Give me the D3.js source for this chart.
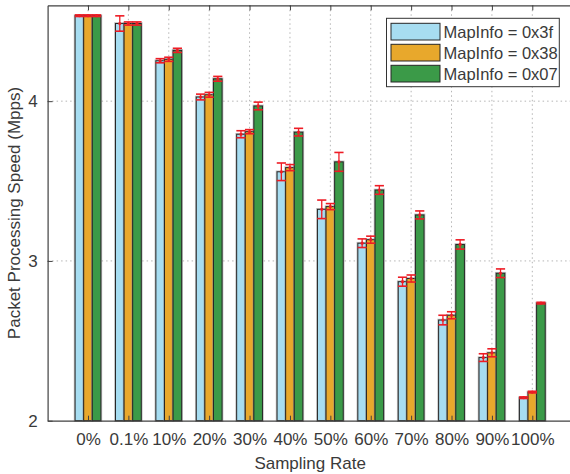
<!DOCTYPE html>
<html>
<head>
<meta charset="utf-8">
<script src="https://cdn.jsdelivr.net/npm/d3@7"></script>
<style>
  html, body { margin: 0; padding: 0; background: #fff; }
  svg { display: block; font-family: "Liberation Sans", Arial, Helvetica, sans-serif; }
</style>
</head>
<body>
<svg id="chart" width="570" height="474"></svg>
<script>
// Sampling rates on the x axis
const categories = ["0%", "0.1%", "10%", "20%", "30%", "40%", "50%", "60%", "70%", "80%", "90%", "100%"];

// Series names (legend entries)
const seriesNames = ["MapInfo = 0x3f", "MapInfo = 0x38", "MapInfo = 0x07"];

// Mean packet processing speed (Mpps) per sampling rate
const speed3f = [4.535, 4.486, 4.253, 4.026, 3.793, 3.558, 3.323, 3.111, 2.870, 2.630, 2.395, 2.144];
const speed38 = [4.535, 4.486, 4.262, 4.040, 3.809, 3.584, 3.340, 3.133, 2.890, 2.660, 2.425, 2.179];
const speed07 = [4.535, 4.486, 4.318, 4.140, 3.970, 3.806, 3.620, 3.444, 3.288, 3.103, 2.923, 2.736];

// Half-width of the error bars (Mpps)
const err3f = [0.005, 0.048, 0.013, 0.018, 0.022, 0.055, 0.058, 0.027, 0.028, 0.030, 0.024, 0.005];
const err38 = [0.005, 0.010, 0.013, 0.015, 0.013, 0.019, 0.019, 0.022, 0.022, 0.022, 0.025, 0.005];
const err07 = [0.005, 0.010, 0.013, 0.015, 0.024, 0.024, 0.059, 0.027, 0.025, 0.029, 0.027, 0.005];

// Y axis ticks
const yTicks = [2, 3, 4];

const colors = ["#a7ddf1", "#e8a82c", "#3b9a48"];

const series = [
  { name: seriesNames[0], values: speed3f, errs: err3f, color: colors[0] },
  { name: seriesNames[1], values: speed38, errs: err38, color: colors[1] },
  { name: seriesNames[2], values: speed07, errs: err07, color: colors[2] }
];

const svg = d3.select("#chart");
const plotLeft = 47.6, plotRight = 572.7, plotTop = 5.3, plotBottom = 420.7;

// Categorical positions 1..12 on a 0..13 axis
const x = d3.scaleLinear().domain([0, categories.length + 1]).range([plotLeft, plotRight]);
const y = d3.scaleLinear().domain([2, 4.6]).range([plotBottom, plotTop]);
const barW = 8.6;
const inner = d3.scaleBand().domain(d3.range(series.length))
  .range([-barW * series.length / 2, barW * series.length / 2]).padding(0);

const axisColor = "#404040";
const textColor = "#3a3a3a";

// Grid (dotted), behind bars
const grid = svg.append("g");
grid.selectAll("line.vg").data(categories).join("line")
  .attr("x1", (d, i) => x(i + 1)).attr("x2", (d, i) => x(i + 1))
  .attr("y1", plotTop).attr("y2", plotBottom)
  .attr("stroke", "#b5b5b5").attr("stroke-width", 1).attr("stroke-dasharray", "1.5,3");
grid.selectAll("line.hg").data(yTicks.filter(t => t > 2)).join("line")
  .attr("x1", plotLeft).attr("x2", plotRight)
  .attr("y1", d => y(d)).attr("y2", d => y(d))
  .attr("stroke", "#b5b5b5").attr("stroke-width", 1).attr("stroke-dasharray", "1.5,3");

// Bars
const bars = svg.append("g");
series.forEach((s, si) => {
  const g = bars.append("g");
  const bx = (i) => x(i + 1) + inner(si);
  // soft grey halo around each bar
  g.selectAll("rect.halo").data(s.values).join("rect")
    .attr("x", (d, i) => bx(i)).attr("y", d => y(d))
    .attr("width", inner.bandwidth()).attr("height", d => plotBottom - y(d))
    .attr("fill", "none").attr("stroke", "#8c8c8c").attr("stroke-opacity", 0.55).attr("stroke-width", 2.6);
  g.selectAll("rect.bar").data(s.values).join("rect")
    .attr("x", (d, i) => bx(i)).attr("y", d => y(d))
    .attr("width", inner.bandwidth()).attr("height", d => plotBottom - y(d))
    .attr("fill", s.color).attr("stroke", "#262626").attr("stroke-width", 1);
});

// Error bars
const errG = svg.append("g");
const red = "#ee1c25";
series.forEach((s, si) => {
  s.values.forEach((v, i) => {
    const cx = x(i + 1) + inner(si) + inner.bandwidth() / 2;
    const e = s.errs[i];
    const g = errG.append("g").attr("stroke", red).attr("fill", red);
    g.append("line").attr("x1", cx).attr("x2", cx).attr("y1", y(v + e)).attr("y2", y(v - e)).attr("stroke-width", 1.3);
    g.append("line").attr("x1", cx - 4.6).attr("x2", cx + 4.6).attr("y1", y(v + e)).attr("y2", y(v + e)).attr("stroke-width", 1.6);
    g.append("line").attr("x1", cx - 4.6).attr("x2", cx + 4.6).attr("y1", y(v - e)).attr("y2", y(v - e)).attr("stroke-width", 1.6);
    g.append("circle").attr("cx", cx).attr("cy", y(v)).attr("r", 1.6).attr("stroke", "none");
  });
});

// Axes
const xAxis = d3.axisBottom(x)
  .tickValues(d3.range(1, categories.length + 1))
  .tickFormat(d => categories[d - 1])
  .tickSizeInner(-5).tickSizeOuter(0).tickPadding(12);
const gx = svg.append("g").attr("transform", `translate(0,${plotBottom})`).call(xAxis);
gx.select(".domain").attr("stroke", axisColor).attr("stroke-width", 1.2);
gx.selectAll(".tick line").attr("stroke", axisColor);
gx.selectAll(".tick text").attr("fill", textColor).attr("font-size", 17);

const xTop = d3.axisTop(x)
  .tickValues(d3.range(1, categories.length + 1))
  .tickFormat("").tickSizeInner(-5).tickSizeOuter(0);
const gt = svg.append("g").attr("transform", `translate(0,${plotTop})`).call(xTop);
gt.select(".domain").attr("stroke", axisColor).attr("stroke-width", 1.2);
gt.selectAll(".tick line").attr("stroke", axisColor);

const yAxis = d3.axisLeft(y).tickValues(yTicks).tickFormat(d3.format("d"))
  .tickSizeInner(-5).tickSizeOuter(0).tickPadding(10);
const gy = svg.append("g").attr("transform", `translate(${plotLeft},0)`).call(yAxis);
gy.select(".domain").attr("stroke", axisColor).attr("stroke-width", 1.2);
gy.selectAll(".tick line").attr("stroke", axisColor);
gy.selectAll(".tick text").attr("fill", textColor).attr("font-size", 17);

// Axis titles
svg.append("text")
  .attr("x", (plotLeft + plotRight) / 2).attr("y", 469)
  .attr("text-anchor", "middle").attr("fill", textColor).attr("font-size", 17)
  .text("Sampling Rate");
svg.append("text")
  .attr("transform", `translate(20,${(plotTop + plotBottom) / 2}) rotate(-90)`)
  .attr("text-anchor", "middle").attr("fill", textColor).attr("font-size", 17)
  .text("Packet Processing Speed (Mpps)");

// Legend
const lg = svg.append("g");
lg.append("rect").attr("x", 386.5).attr("y", 18.3).attr("width", 172.8).attr("height", 68.4)
  .attr("fill", "#fff").attr("stroke", "#333").attr("stroke-width", 1);
series.forEach((s, si) => {
  const ry = 23.3 + si * 21;
  lg.append("rect").attr("x", 391).attr("y", ry).attr("width", 49).attr("height", 16.7)
    .attr("fill", s.color).attr("stroke", "#262626").attr("stroke-width", 1);
  lg.append("text").attr("x", 443.5).attr("y", ry + 14.2).attr("fill", textColor)
    .attr("font-size", 16.5).text(s.name);
});
</script>
</body>
</html>
